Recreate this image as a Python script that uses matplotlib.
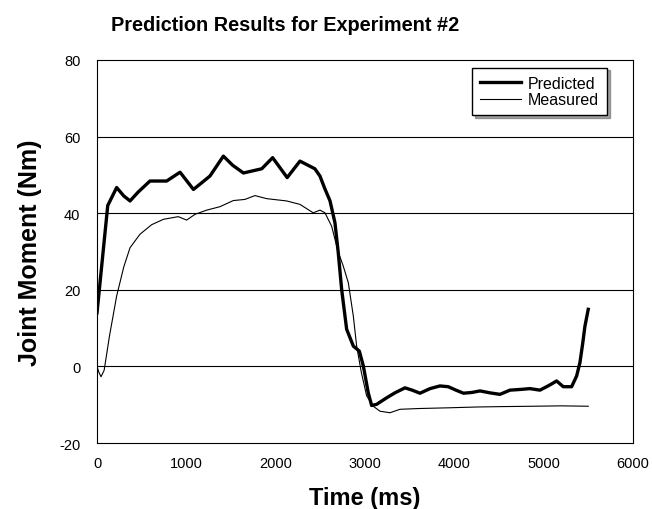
import matplotlib.pyplot as plt
import numpy as np

plt.rcParams['font.family'] = ['Liberation Sans', 'DejaVu Sans']
plt.rcParams['axes.unicode_minus'] = False

# Predicted joint moment (thick line)
pred_t = [0, 60, 120, 220, 300, 370, 460, 593, 780, 930, 1080, 1265, 1415, 1520, 1640,
          1845, 1967, 2130, 2273, 2440, 2497, 2550, 2610, 2665, 2702, 2740, 2796, 2871,
          2938, 2983, 3038, 3076, 3132, 3244, 3337, 3449, 3530, 3617, 3730, 3841, 3934,
          4020, 4105, 4200, 4290, 4400, 4513, 4625, 4750, 4849, 4961, 5060, 5148, 5222,
          5316, 5372, 5409, 5440, 5465, 5502]
pred_v = [14, 28, 42, 46.7, 44.5, 43.2, 45.5, 48.4, 48.4, 50.7, 46.2, 49.7, 54.9, 52.5, 50.5,
          51.6, 54.5, 49.3, 53.6, 51.6, 49.7, 46.5, 43.2, 37.5, 29.7, 20.1, 9.7, 5.3,
          4.0, 0.1, -6.9, -10.2, -9.9, -8.2, -6.9, -5.6, -6.2, -7.0, -5.8, -5.1, -5.3,
          -6.2, -7.0, -6.8, -6.4, -6.9, -7.3, -6.2, -6.0, -5.8, -6.2, -5.0, -3.8, -5.3,
          -5.3, -2.5, 1.0, 6.0, 10.5, 14.9]

# Measured joint moment (thin line)
meas_t = [0, 20, 45, 80, 140, 220, 300, 370, 481, 612, 743, 910, 1004, 1097, 1228, 1377,
          1527, 1657, 1769, 1900, 2124, 2273, 2422, 2497, 2553, 2628, 2700, 2758, 2815,
          2871, 2908, 2960, 3020, 3100, 3169, 3281, 3393, 3600, 3953, 4250, 4513, 4886,
          5200, 5502]
meas_v = [0, -1.5, -2.7, -1.0, 8, 18.4, 26, 31, 34.5, 37, 38.4, 39.1, 38.2, 39.7, 40.8,
          41.7, 43.3, 43.6, 44.6, 43.8, 43.2, 42.3, 40.1, 40.8, 40.1, 36.6, 30, 26.2, 21.8,
          13.1, 5.3, -1.5, -7.7, -10.5, -11.7, -12.1, -11.2, -11.0, -10.8, -10.6, -10.5,
          -10.4, -10.3, -10.4]

fig = plt.figure(figsize=(6.52, 5.10), dpi=100)
ax = fig.add_axes([0.1488, 0.1294, 0.8216, 0.751])

for y in [0, 20, 40, 60]:
    ax.axhline(y, color='black', lw=0.8, zorder=1)

ax.plot(pred_t, pred_v, color='black', lw=2.4, label='Predicted', zorder=3,
        solid_joinstyle='round')
ax.plot(meas_t, meas_v, color='black', lw=0.8, label='Measured', zorder=2)

ax.set_xlim(0, 6000)
ax.set_ylim(-20, 80)
ax.set_xticks([0, 1000, 2000, 3000, 4000, 5000, 6000])
ax.set_yticks([-20, 0, 20, 40, 60, 80])
ax.tick_params(length=0, labelsize=10.5)
ax.tick_params(axis='y', pad=12)
ax.tick_params(axis='x', pad=9)
for s in ax.spines.values():
    s.set_linewidth(0.8)

ax.set_xlabel('Time (ms)', fontsize=17, fontweight='bold', labelpad=12)
ax.set_ylabel('Joint Moment (Nm)', fontsize=18, fontweight='bold', labelpad=12)
fig.text(0.437, 0.95, 'Prediction Results for Experiment #2', fontsize=14.3,
         fontweight='bold', ha='center', va='center')

leg = ax.legend(loc='upper right', bbox_to_anchor=(0.952, 0.98), fontsize=11.5,
                frameon=True, fancybox=False, shadow=True, handlelength=2.6,
                handletextpad=0.4, borderpad=0.5, labelspacing=0.1, borderaxespad=0)
leg.get_frame().set_edgecolor('black')
leg.get_frame().set_linewidth(1.0)

fig.savefig('out.png', dpi=100)
